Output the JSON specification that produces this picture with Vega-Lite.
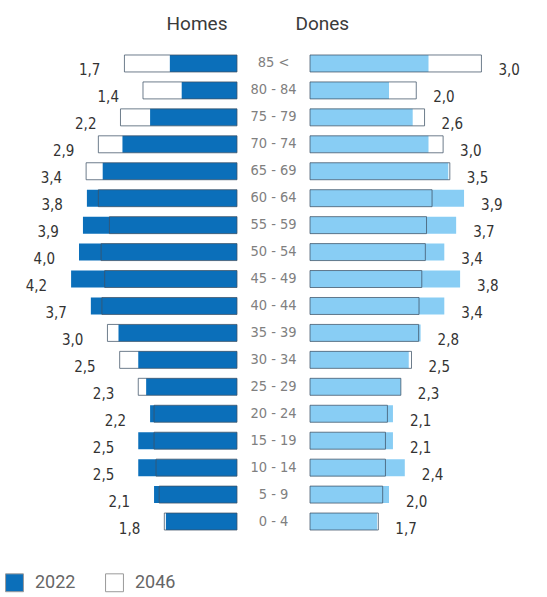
{
  "$schema": "https://vega.github.io/schema/vega-lite/v6.json",
  "padding": {"left": 0, "right": 0, "top": 15, "bottom": 0},
  "background": "white",
  "bounds": "flush",
  "config": {
    "view": {"stroke": null},
    "font": "Roboto",
    "locale": {"number": {"decimal": ",", "thousands": ".", "grouping": [3], "currency": ["", " €"]}}
  },
  "data": {"values": [
    {"age": "85 <", "sex": "Homes", "year": "2022", "v": 1.7},
    {"age": "80 - 84", "sex": "Homes", "year": "2022", "v": 1.4},
    {"age": "75 - 79", "sex": "Homes", "year": "2022", "v": 2.2},
    {"age": "70 - 74", "sex": "Homes", "year": "2022", "v": 2.9},
    {"age": "65 - 69", "sex": "Homes", "year": "2022", "v": 3.4},
    {"age": "60 - 64", "sex": "Homes", "year": "2022", "v": 3.8},
    {"age": "55 - 59", "sex": "Homes", "year": "2022", "v": 3.9},
    {"age": "50 - 54", "sex": "Homes", "year": "2022", "v": 4.0},
    {"age": "45 - 49", "sex": "Homes", "year": "2022", "v": 4.2},
    {"age": "40 - 44", "sex": "Homes", "year": "2022", "v": 3.7},
    {"age": "35 - 39", "sex": "Homes", "year": "2022", "v": 3.0},
    {"age": "30 - 34", "sex": "Homes", "year": "2022", "v": 2.5},
    {"age": "25 - 29", "sex": "Homes", "year": "2022", "v": 2.3},
    {"age": "20 - 24", "sex": "Homes", "year": "2022", "v": 2.2},
    {"age": "15 - 19", "sex": "Homes", "year": "2022", "v": 2.5},
    {"age": "10 - 14", "sex": "Homes", "year": "2022", "v": 2.5},
    {"age": "5 - 9", "sex": "Homes", "year": "2022", "v": 2.1},
    {"age": "0 - 4", "sex": "Homes", "year": "2022", "v": 1.8},
    {"age": "85 <", "sex": "Homes", "year": "2046", "v": 2.85},
    {"age": "80 - 84", "sex": "Homes", "year": "2046", "v": 2.38},
    {"age": "75 - 79", "sex": "Homes", "year": "2046", "v": 2.95},
    {"age": "70 - 74", "sex": "Homes", "year": "2046", "v": 3.51},
    {"age": "65 - 69", "sex": "Homes", "year": "2046", "v": 3.82},
    {"age": "60 - 64", "sex": "Homes", "year": "2046", "v": 3.51},
    {"age": "55 - 59", "sex": "Homes", "year": "2046", "v": 3.23},
    {"age": "50 - 54", "sex": "Homes", "year": "2046", "v": 3.44},
    {"age": "45 - 49", "sex": "Homes", "year": "2046", "v": 3.35},
    {"age": "40 - 44", "sex": "Homes", "year": "2046", "v": 3.42},
    {"age": "35 - 39", "sex": "Homes", "year": "2046", "v": 3.28},
    {"age": "30 - 34", "sex": "Homes", "year": "2046", "v": 2.97},
    {"age": "25 - 29", "sex": "Homes", "year": "2046", "v": 2.5},
    {"age": "20 - 24", "sex": "Homes", "year": "2046", "v": 2.1},
    {"age": "15 - 19", "sex": "Homes", "year": "2046", "v": 2.1},
    {"age": "10 - 14", "sex": "Homes", "year": "2046", "v": 2.05},
    {"age": "5 - 9", "sex": "Homes", "year": "2046", "v": 1.97},
    {"age": "0 - 4", "sex": "Homes", "year": "2046", "v": 1.84},
    {"age": "85 <", "sex": "Dones", "year": "2022", "v": 3.0},
    {"age": "80 - 84", "sex": "Dones", "year": "2022", "v": 2.0},
    {"age": "75 - 79", "sex": "Dones", "year": "2022", "v": 2.6},
    {"age": "70 - 74", "sex": "Dones", "year": "2022", "v": 3.0},
    {"age": "65 - 69", "sex": "Dones", "year": "2022", "v": 3.5},
    {"age": "60 - 64", "sex": "Dones", "year": "2022", "v": 3.9},
    {"age": "55 - 59", "sex": "Dones", "year": "2022", "v": 3.7},
    {"age": "50 - 54", "sex": "Dones", "year": "2022", "v": 3.4},
    {"age": "45 - 49", "sex": "Dones", "year": "2022", "v": 3.8},
    {"age": "40 - 44", "sex": "Dones", "year": "2022", "v": 3.4},
    {"age": "35 - 39", "sex": "Dones", "year": "2022", "v": 2.8},
    {"age": "30 - 34", "sex": "Dones", "year": "2022", "v": 2.5},
    {"age": "25 - 29", "sex": "Dones", "year": "2022", "v": 2.3},
    {"age": "20 - 24", "sex": "Dones", "year": "2022", "v": 2.1},
    {"age": "15 - 19", "sex": "Dones", "year": "2022", "v": 2.1},
    {"age": "10 - 14", "sex": "Dones", "year": "2022", "v": 2.4},
    {"age": "5 - 9", "sex": "Dones", "year": "2022", "v": 2.0},
    {"age": "0 - 4", "sex": "Dones", "year": "2022", "v": 1.7},
    {"age": "85 <", "sex": "Dones", "year": "2046", "v": 4.34},
    {"age": "80 - 84", "sex": "Dones", "year": "2046", "v": 2.69},
    {"age": "75 - 79", "sex": "Dones", "year": "2046", "v": 2.9},
    {"age": "70 - 74", "sex": "Dones", "year": "2046", "v": 3.37},
    {"age": "65 - 69", "sex": "Dones", "year": "2046", "v": 3.54},
    {"age": "60 - 64", "sex": "Dones", "year": "2046", "v": 3.09},
    {"age": "55 - 59", "sex": "Dones", "year": "2046", "v": 2.95},
    {"age": "50 - 54", "sex": "Dones", "year": "2046", "v": 2.92},
    {"age": "45 - 49", "sex": "Dones", "year": "2046", "v": 2.83},
    {"age": "40 - 44", "sex": "Dones", "year": "2046", "v": 2.76},
    {"age": "35 - 39", "sex": "Dones", "year": "2046", "v": 2.75},
    {"age": "30 - 34", "sex": "Dones", "year": "2046", "v": 2.57},
    {"age": "25 - 29", "sex": "Dones", "year": "2046", "v": 2.3},
    {"age": "20 - 24", "sex": "Dones", "year": "2046", "v": 1.96},
    {"age": "15 - 19", "sex": "Dones", "year": "2046", "v": 1.91},
    {"age": "10 - 14", "sex": "Dones", "year": "2046", "v": 1.91},
    {"age": "5 - 9", "sex": "Dones", "year": "2046", "v": 1.84},
    {"age": "0 - 4", "sex": "Dones", "year": "2046", "v": 1.73}
  ]},
  "spacing": 0,
  "hconcat": [
    {
      "width": 237,
      "height": 485,
      "title": {"text": "Homes", "anchor": "end", "dx": -10, "offset": 16, "fontSize": 19, "fontWeight": "normal", "color": "#3a3a3a", "font": "Roboto"},
      "transform": [{"filter": "datum.sex === 'Homes'"}],
      "encoding": {
        "y": {"field": "age", "type": "nominal", "axis": null,
          "sort": ["85 <", "80 - 84", "75 - 79", "70 - 74", "65 - 69", "60 - 64", "55 - 59", "50 - 54", "45 - 49", "40 - 44", "35 - 39", "30 - 34", "25 - 29", "20 - 24", "15 - 19", "10 - 14", "5 - 9", "0 - 4"],
          "scale": {"paddingInner": 0.37, "paddingOuter": 0.185}}
      },
      "layer": [
        {
          "transform": [{"filter": "datum.year === '2046'"}],
          "mark": {"type": "bar"},
          "encoding": {
            "x": {"field": "v", "type": "quantitative", "axis": null, "scale": {"domain": [0, 5.59], "reverse": true}},
            "color": {"field": "year", "type": "nominal",
              "scale": {"domain": ["2022", "2046"], "range": ["#0b6fba", "#ffffff"]},
              "legend": {"orient": "bottom", "direction": "horizontal", "title": null, "symbolType": "square", "symbolSize": 320, "symbolStrokeColor": "#9a9a9a", "symbolStrokeWidth": 1, "labelFontSize": 18, "labelColor": "#666666", "labelFont": "Roboto", "offset": 31, "padding": 5, "columnPadding": 27, "labelOffset": 11}}
          }
        },
        {
          "transform": [{"filter": "datum.year === '2022'"}],
          "mark": {"type": "bar"},
          "encoding": {
            "x": {"field": "v", "type": "quantitative"},
            "color": {"field": "year", "type": "nominal"}
          }
        },
        {
          "transform": [{"filter": "datum.year === '2046'"}],
          "mark": {"type": "bar", "fill": null, "fillOpacity": 0, "stroke": "#3d5266", "strokeOpacity": 0.75, "strokeWidth": 1},
          "encoding": {"x": {"field": "v", "type": "quantitative"}}
        },
        {
          "transform": [
            {"joinaggregate": [{"op": "max", "field": "v", "as": "vmax"}], "groupby": ["age"]},
            {"filter": "datum.year === '2022'"}
          ],
          "mark": {"type": "text", "align": "right", "baseline": "middle", "dx": -24, "dy": 7, "fontSize": 15, "font": "DejaVu Sans Condensed, Roboto", "color": "#333333"},
          "encoding": {
            "x": {"field": "vmax", "type": "quantitative"},
            "text": {"field": "v", "type": "quantitative", "format": ".1f"}
          }
        }
      ]
    },
    {
      "width": 73,
      "height": 485,
      "transform": [{"filter": "datum.sex === 'Homes' && datum.year === '2022'"}],
      "mark": {"type": "text", "baseline": "middle", "fontSize": 14.5, "font": "DejaVu Sans Condensed, Roboto", "color": "#808080"},
      "encoding": {
        "y": {"field": "age", "type": "nominal", "axis": null,
          "sort": ["85 <", "80 - 84", "75 - 79", "70 - 74", "65 - 69", "60 - 64", "55 - 59", "50 - 54", "45 - 49", "40 - 44", "35 - 39", "30 - 34", "25 - 29", "20 - 24", "15 - 19", "10 - 14", "5 - 9", "0 - 4"],
          "scale": {"paddingInner": 0.37, "paddingOuter": 0.185}},
        "text": {"field": "age", "type": "nominal"}
      }
    },
    {
      "width": 237,
      "height": 485,
      "title": {"text": "Dones", "anchor": "start", "dx": -14, "offset": 16, "fontSize": 19, "fontWeight": "normal", "color": "#3a3a3a", "font": "Roboto"},
      "transform": [{"filter": "datum.sex === 'Dones'"}],
      "encoding": {
        "y": {"field": "age", "type": "nominal", "axis": null,
          "sort": ["85 <", "80 - 84", "75 - 79", "70 - 74", "65 - 69", "60 - 64", "55 - 59", "50 - 54", "45 - 49", "40 - 44", "35 - 39", "30 - 34", "25 - 29", "20 - 24", "15 - 19", "10 - 14", "5 - 9", "0 - 4"],
          "scale": {"paddingInner": 0.37, "paddingOuter": 0.185}}
      },
      "layer": [
        {
          "transform": [{"filter": "datum.year === '2046'"}],
          "mark": {"type": "bar", "fill": "#ffffff"},
          "encoding": {
            "x": {"field": "v", "type": "quantitative", "axis": null, "scale": {"domain": [0, 5.59]}}
          }
        },
        {
          "transform": [{"filter": "datum.year === '2022'"}],
          "mark": {"type": "bar", "fill": "#88cdf4"},
          "encoding": {"x": {"field": "v", "type": "quantitative"}}
        },
        {
          "transform": [{"filter": "datum.year === '2046'"}],
          "mark": {"type": "bar", "fill": null, "fillOpacity": 0, "stroke": "#3d5266", "strokeOpacity": 0.75, "strokeWidth": 1},
          "encoding": {"x": {"field": "v", "type": "quantitative"}}
        },
        {
          "transform": [
            {"joinaggregate": [{"op": "max", "field": "v", "as": "vmax"}], "groupby": ["age"]},
            {"filter": "datum.year === '2022'"}
          ],
          "mark": {"type": "text", "align": "left", "baseline": "middle", "dx": 17, "dy": 7, "fontSize": 15, "font": "DejaVu Sans Condensed, Roboto", "color": "#333333"},
          "encoding": {
            "x": {"field": "vmax", "type": "quantitative"},
            "text": {"field": "v", "type": "quantitative", "format": ".1f"}
          }
        }
      ]
    }
  ]
}
